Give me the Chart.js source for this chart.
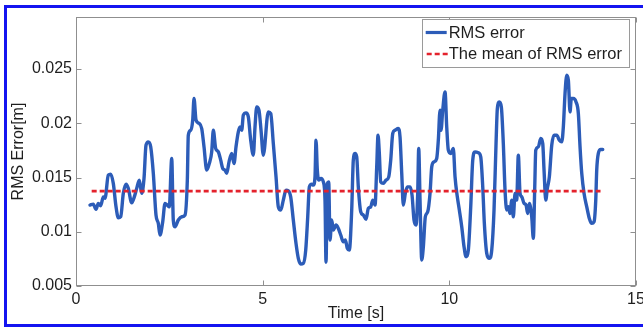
<!DOCTYPE html>
<html><head><meta charset="utf-8">
<script src="https://cdn.jsdelivr.net/npm/chart.js@4.4.1/dist/chart.umd.min.js"></script>
<style>
html,body{margin:0;padding:0;background:#fff;overflow:hidden}
#wrap{position:relative;width:643px;height:330px}
</style></head><body>
<div id="wrap"><canvas id="c" width="643" height="330"></canvas></div>
<script>
const times = [0.375,0.463,0.536,0.597,0.662,0.731,0.777,0.865,0.930,0.999,1.072,1.133,1.197,1.267,1.339,1.401,1.492,1.562,1.626,1.696,1.760,1.822,1.875,1.937,2.001,2.071,2.143,2.205,2.250,2.323,2.384,2.446,2.499,2.564,2.606,2.652,2.740,2.832,2.920,2.982,3.008,3.073,3.126,3.161,3.215,3.303,3.367,3.429,3.501,3.571,3.635,3.678,3.742,3.812,3.876,3.930,3.991,4.037,4.099,4.171,4.233,4.286,4.348,4.393,4.439,4.482,4.554,4.616,4.680,4.750,4.795,4.841,4.902,4.956,5.017,5.151,5.216,5.285,5.358,5.419,5.484,5.553,5.626,5.687,5.751,5.821,5.893,5.955,6.019,6.089,6.153,6.207,6.250,6.314,6.357,6.402,6.429,6.464,6.502,6.563,6.625,6.670,6.697,6.732,6.769,6.804,6.850,6.893,6.965,7.027,7.091,7.161,7.214,7.268,7.321,7.385,7.428,7.474,7.519,7.562,7.627,7.696,7.769,7.830,7.895,7.948,8.010,8.055,8.090,8.125,8.162,8.232,8.304,8.377,8.430,8.484,8.545,8.634,8.679,8.725,8.768,8.821,8.875,8.947,9.001,9.054,9.108,9.153,9.180,9.215,9.261,9.304,9.357,9.421,9.483,9.529,9.590,9.662,9.705,9.751,9.777,9.823,9.885,9.930,9.973,10.038,10.107,10.153,10.214,10.268,10.332,10.394,10.447,10.509,10.573,10.627,10.688,10.777,10.841,10.895,10.938,11.002,11.072,11.136,11.197,11.251,11.286,11.339,11.393,11.446,11.492,11.537,11.580,11.626,11.672,11.714,11.760,11.805,11.848,11.894,11.940,12.001,12.055,12.100,12.143,12.207,12.250,12.288,12.315,12.384,12.449,12.502,12.537,12.583,12.625,12.679,12.743,12.805,12.877,12.947,13.011,13.054,13.099,13.145,13.188,13.233,13.268,13.322,13.394,13.456,13.501,13.547,13.608,13.681,13.750,13.815,13.876,13.922,13.948,13.991,14.056,14.109];
const rmsError = [0.01246,0.01255,0.01206,0.01262,0.0124,0.01322,0.01308,0.01522,0.01531,0.01446,0.0123,0.01129,0.01138,0.01354,0.01439,0.0140,0.01267,0.01322,0.0140,0.01476,0.01354,0.01492,0.01798,0.01829,0.01783,0.01538,0.01154,0.01077,0.0097,0.01092,0.01262,0.01246,0.0123,0.01676,0.01108,0.01046,0.01108,0.01138,0.01154,0.01476,0.0189,0.01936,0.02029,0.02228,0.02029,0.01998,0.01952,0.01783,0.01568,0.0163,0.01737,0.01936,0.01768,0.01737,0.0166,0.01584,0.01568,0.01538,0.01645,0.01722,0.0163,0.01783,0.01921,0.01967,0.01936,0.02075,0.02096,0.02059,0.01844,0.01706,0.01967,0.02151,0.0212,0.01936,0.01706,0.02105,0.0209,0.01814,0.01506,0.0123,0.0120,0.01292,0.01384,0.01378,0.01322,0.01108,0.00893,0.00755,0.00703,0.00709,0.00831,0.01138,0.01414,0.01439,0.0143,0.01506,0.01844,0.01568,0.01476,0.01492,0.0146,0.01292,0.0072,0.01446,0.0146,0.00924,0.01108,0.01016,0.01062,0.01031,0.0097,0.00908,0.00924,0.00847,0.00831,0.0120,0.0166,0.01722,0.01691,0.01414,0.01184,0.01154,0.01114,0.01215,0.0123,0.01292,0.01246,0.01599,0.0189,0.01722,0.0146,0.01446,0.01476,0.01506,0.0166,0.01906,0.01936,0.01952,0.01875,0.01538,0.01246,0.01354,0.01414,0.01414,0.01338,0.01108,0.01062,0.01354,0.01768,0.01292,0.0074,0.00862,0.01138,0.01184,0.01354,0.01599,0.01645,0.01676,0.01844,0.0212,0.01936,0.0212,0.0229,0.01967,0.01752,0.01722,0.01768,0.01506,0.01322,0.0120,0.01046,0.00862,0.0077,0.00831,0.0123,0.0166,0.01737,0.01728,0.01691,0.01414,0.01077,0.00801,0.00755,0.00831,0.0120,0.01814,0.02136,0.02197,0.02151,0.01814,0.01384,0.0120,0.0123,0.01169,0.01292,0.01138,0.01354,0.01292,0.01706,0.01354,0.01322,0.01262,0.01246,0.01169,0.01262,0.01138,0.00939,0.01414,0.01752,0.01783,0.0186,0.01814,0.01568,0.01292,0.0140,0.01506,0.01798,0.0189,0.0189,0.01844,0.01829,0.01967,0.02274,0.02443,0.02397,0.02105,0.02228,0.02228,0.02197,0.0209,0.01783,0.01538,0.01354,0.0123,0.01123,0.01077,0.01092,0.01292,0.01568,0.01722,0.01759,0.01759];
const meanRms = 0.01375;
const meanSpan = [0.42, 14.05];
const xTicks = [0, 5, 10, 15];
const xTickLabels = ['0', '5', '10', '15'];
const yTicks = [0.005, 0.01, 0.015, 0.02, 0.025];
const yTickLabels = ['0.005', '0.01', '0.015', '0.02', '0.025'];
const seriesNames = ['RMS error', 'The mean of RMS error'];
const xTitle = 'Time [s]';
const yTitle = 'RMS Error[m]';

const BLUE = '#2c5cb8', RED = '#e4222c', AXIS = '#8f8f8f', TXT = '#1e1e1e', FRAME = '#1414f0';
const FONT = '"Liberation Sans", Arial, sans-serif';

const boxPlugin = {
  id: 'boxTicks',
  afterDraw(chart) {
    const {ctx, chartArea: a, scales} = chart;
    ctx.save();
    ctx.strokeStyle = AXIS; ctx.lineWidth = 1;
    const L = Math.round(a.left) + 0.5, R = Math.round(a.right) - 0.5, T = Math.round(a.top) + 0.5, B = Math.round(a.bottom) - 0.5;
    ctx.strokeRect(L, T, R - L, B - T);
    ctx.beginPath();
    scales.x.ticks.forEach(t => {
      const px = Math.round(scales.x.getPixelForValue(t.value)) + 0.5;
      ctx.moveTo(px, B); ctx.lineTo(px, B - 5);
      ctx.moveTo(px, T); ctx.lineTo(px, T + 5);
    });
    scales.y.ticks.forEach(t => {
      const py = Math.round(scales.y.getPixelForValue(t.value)) + 0.5;
      ctx.moveTo(L, py); ctx.lineTo(L + 5, py);
      ctx.moveTo(R, py); ctx.lineTo(R - 5, py);
    });
    ctx.stroke();
    // legend
    ctx.font = '16.5px ' + FONT;
    const tw = Math.max(...seriesNames.map(s => ctx.measureText(s).width));
    const bR = a.right - 7, bT = a.top + 2;
    const bL = bR - tw - 34, bH = 48;
    ctx.fillStyle = '#fff';
    ctx.fillRect(bL, bT, bR - bL, bH);
    ctx.strokeStyle = '#9a9a9a';
    ctx.strokeRect(Math.round(bL) + 0.5, Math.round(bT) + 0.5, Math.round(bR - bL), bH);
    const rows = [bT + 13.5, bT + 35];
    ctx.lineWidth = 3.2; ctx.strokeStyle = BLUE; ctx.setLineDash([]);
    ctx.beginPath(); ctx.moveTo(bL + 4, rows[0]); ctx.lineTo(bL + 25, rows[0]); ctx.stroke();
    ctx.lineWidth = 2.6; ctx.strokeStyle = RED; ctx.setLineDash([5, 3]);
    ctx.beginPath(); ctx.moveTo(bL + 5, rows[1]); ctx.lineTo(bL + 27, rows[1]); ctx.stroke();
    ctx.setLineDash([]);
    ctx.fillStyle = TXT; ctx.textBaseline = 'middle'; ctx.textAlign = 'left';
    ctx.fillText(seriesNames[0], bL + 27, rows[0] + 0.5);
    ctx.fillText(seriesNames[1], bL + 27, rows[1] + 0.5);
    // outer frame (top, left, bottom; right side falls outside the picture)
    ctx.fillStyle = FRAME;
    ctx.fillRect(4, 5, chart.width - 4, 3);
    ctx.fillRect(4, 5, 3, 322);
    ctx.fillRect(4, 324, chart.width - 4, 3);
    ctx.restore();
  }
};

new Chart(document.getElementById('c'), {
  type: 'line',
  data: {
    datasets: [
      {
        label: seriesNames[0],
        data: times.map((t, i) => ({x: t, y: rmsError[i]})),
        borderColor: BLUE, borderWidth: 3.4, pointRadius: 0,
        cubicInterpolationMode: 'monotone', borderJoinStyle: 'round', borderCapStyle: 'round',
        order: 1
      },
      {
        label: seriesNames[1],
        data: meanSpan.map(t => ({x: t, y: meanRms})),
        borderColor: RED, borderWidth: 2.6, borderDash: [5, 3], pointRadius: 0,
        order: 0
      }
    ]
  },
  options: {
    responsive: false, animation: false, devicePixelRatio: 1,
    layout: {padding: {left: 0, right: 7, top: 17, bottom: 0}},
    plugins: {legend: {display: false}, tooltip: {enabled: false}},
    scales: {
      x: {
        type: 'linear', min: 0, max: 15,
        grid: {display: false, drawTicks: false}, border: {display: false},
        afterBuildTicks: s => { s.ticks = xTicks.map(v => ({value: v})); },
        afterFit: s => { s.height = 44; s.paddingLeft = 0; s.paddingRight = 0; },
        ticks: {autoSkip: false, maxRotation: 0, padding: 4, color: TXT, font: {family: FONT, size: 16},
          callback: (v, i) => xTickLabels[i]},
        title: {display: true, text: xTitle, color: TXT, font: {family: FONT, size: 16}, padding: {top: 0, bottom: 7}}
      },
      y: {
        type: 'linear', min: 0.005, max: 0.0298,
        grid: {display: false, drawTicks: false}, border: {display: false},
        afterBuildTicks: s => { s.ticks = yTicks.map(v => ({value: v})); },
        afterFit: s => { s.width = 76; s.paddingTop = 0; s.paddingBottom = 0; },
        ticks: {autoSkip: false, padding: 4, color: TXT, font: {family: FONT, size: 16},
          callback: (v, i) => yTickLabels[i]},
        title: {display: true, text: yTitle, color: TXT, font: {family: FONT, size: 16}, padding: {top: 9, bottom: 0}}
      }
    }
  },
  plugins: [boxPlugin]
});
</script>
</body></html>
